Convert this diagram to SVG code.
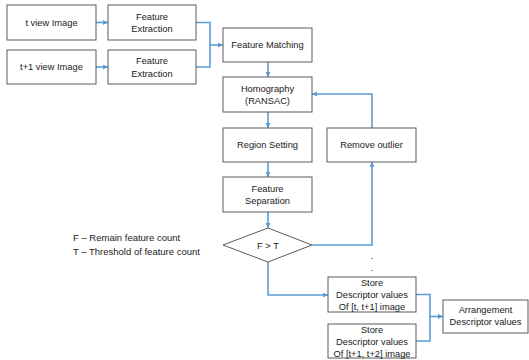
<svg xmlns="http://www.w3.org/2000/svg" width="529" height="360" viewBox="0 0 529 360">
<style>
.box{fill:#fff;stroke:#5a5a5a;stroke-width:1}
.t{font-family:"Liberation Sans",Arial,sans-serif;font-size:9.3px;fill:#1a1a1a;text-anchor:middle}
.n{font-family:"Liberation Sans",Arial,sans-serif;font-size:9.5px;fill:#1a1a1a}
.c{fill:none;stroke:#5b9bd5;stroke-width:1.6}
</style>
<defs>
<marker id="a" viewBox="0 0 10 10" refX="10" refY="5" markerWidth="5" markerHeight="5" orient="auto" markerUnits="userSpaceOnUse">
<path d="M0,0L10,5L0,10z" fill="#5b9bd5"/>
</marker>
</defs>
<rect width="529" height="360" fill="#fff"/>
<g id="connectors">
<path class="c" d="M96,22.5H108" marker-end="url(#a)"/>
<path class="c" d="M96,67H108" marker-end="url(#a)"/>
<path class="c" d="M196,22.5H210V67H196"/>
<path class="c" d="M210,45H223" marker-end="url(#a)"/>
<path class="c" d="M268,62V77" marker-end="url(#a)"/>
<path class="c" d="M268,112V128" marker-end="url(#a)"/>
<path class="c" d="M268,162V177" marker-end="url(#a)"/>
<path class="c" d="M268,212V228" marker-end="url(#a)"/>
<path class="c" d="M312,245H372V162" marker-end="url(#a)"/>
<path class="c" d="M372,128V94H312" marker-end="url(#a)"/>
<path class="c" d="M268,262V295H328" marker-end="url(#a)"/>
<path class="c" d="M416,294.5H430V341H416"/>
<path class="c" d="M430,316.5H443" marker-end="url(#a)"/>
</g>
<g id="n1"><rect class="box" x="7" y="5" width="89" height="35"/><text class="t" x="51.5" y="25.5">t view Image</text></g>
<g id="n2"><rect class="box" x="108" y="5" width="88" height="35"/><text class="t" x="152" y="19.5">Feature</text><text class="t" x="152" y="32">Extraction</text></g>
<g id="n3"><rect class="box" x="7" y="50" width="89" height="34"/><text class="t" x="51.5" y="70">t+1 view Image</text></g>
<g id="n4"><rect class="box" x="108" y="50" width="88" height="34"/><text class="t" x="152" y="64">Feature</text><text class="t" x="152" y="76.5">Extraction</text></g>
<g id="n5"><rect class="box" x="223" y="28" width="89" height="34"/><text class="t" x="267.5" y="48">Feature Matching</text></g>
<g id="n6"><rect class="box" x="223" y="77" width="89" height="35"/><text class="t" x="267.5" y="92">Homography</text><text class="t" x="267.5" y="104">(RANSAC)</text></g>
<g id="n7"><rect class="box" x="223" y="128" width="89" height="34"/><text class="t" x="267.5" y="148">Region Setting</text></g>
<g id="n8"><rect class="box" x="327" y="128" width="89" height="34"/><text class="t" x="371.5" y="148">Remove outlier</text></g>
<g id="n9"><rect class="box" x="223" y="177" width="89" height="35"/><text class="t" x="267.5" y="192">Feature</text><text class="t" x="267.5" y="204">Separation</text></g>
<g id="n10"><path class="box" d="M268,228L312,245L268,262L223,245z"/><text class="t" x="268" y="248.5">F &gt; T</text></g>
<g id="legend"><text class="n" x="73" y="241">F – Remain feature count</text><text class="n" x="73" y="255">T – Threshold of feature count</text></g>
<g id="dots"><text class="t" x="372" y="259">.</text><text class="t" x="372" y="271">.</text></g>
<g id="n11"><rect class="box" x="328" y="277" width="88" height="35"/><text class="t" x="372" y="286">Store</text><text class="t" x="372" y="298">Descriptor values</text><text class="t" x="372" y="310">Of [t, t+1] image</text></g>
<g id="n12"><rect class="box" x="328" y="324" width="88" height="34"/><text class="t" x="372" y="333">Store</text><text class="t" x="372" y="345">Descriptor values</text><text class="t" x="372" y="357">Of [t+1, t+2] image</text></g>
<g id="n13"><rect class="box" x="443" y="300" width="85" height="33"/><text class="t" x="485.5" y="313">Arrangement</text><text class="t" x="485.5" y="325">Descriptor values</text></g>
</svg>
